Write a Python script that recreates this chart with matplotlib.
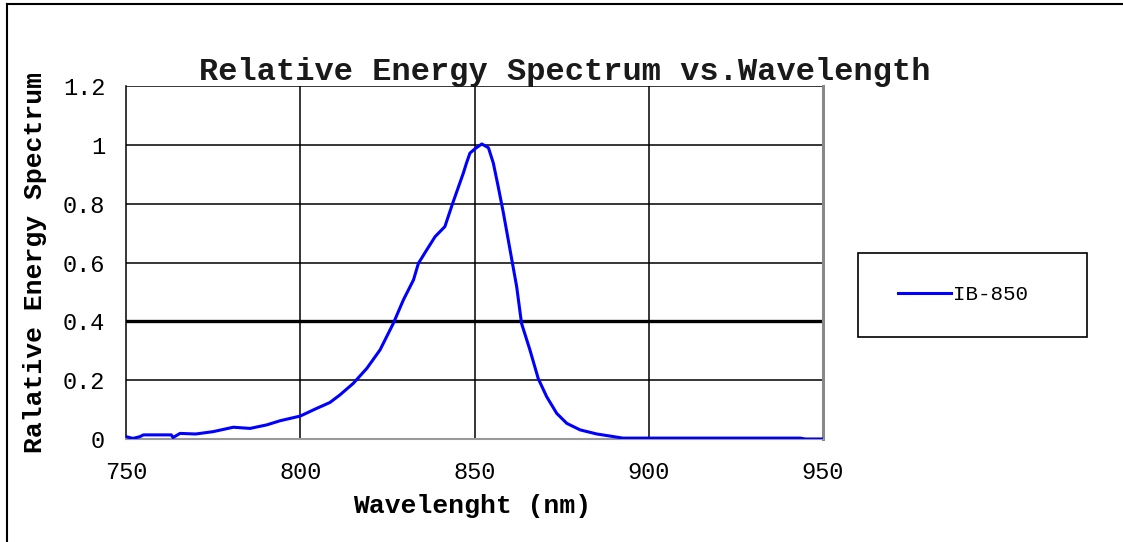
import matplotlib
matplotlib.use('Agg')
import matplotlib.pyplot as plt
from matplotlib.lines import Line2D
from matplotlib.patches import Rectangle

# spectrum
wavelength = [750, 752, 754, 755, 760, 763, 763.5, 765.5, 770, 775, 780.8, 785.6,
              790.4, 794.2, 800, 804.7, 808.5, 811.4, 815.2, 819.1, 822.9, 826.7,
              829.6, 832.5, 833.9, 836.3, 838.7, 841.5, 843.7, 846.8, 847.7, 848.7, 850.3,
              852.1, 854, 855.4, 856.8, 858.3, 860.2, 862.1, 863.5, 865.9, 868.3,
              870.7, 873.6, 876.5, 880.3, 885.1, 888.9, 892.6, 900, 920, 943.4, 945, 950]
energy = [0.008, 0.002, 0.008, 0.014, 0.014, 0.014, 0.005, 0.019, 0.017, 0.025, 0.040, 0.036,
          0.048, 0.062, 0.078, 0.104, 0.124, 0.150, 0.189, 0.240, 0.303, 0.393,
          0.473, 0.541, 0.597, 0.643, 0.688, 0.722, 0.800, 0.904, 0.938, 0.972, 0.988,
          1.003, 0.99, 0.938, 0.858, 0.768, 0.643, 0.518, 0.393, 0.303, 0.205,
          0.144, 0.087, 0.053, 0.031, 0.017, 0.010, 0.003, 0.003, 0.003, 0.003, 0.0, 0.0]
series_name = 'IB-850'
x_ticks = [750, 800, 850, 900, 950]
y_ticks = [0, 0.2, 0.4, 0.6, 0.8, 1.0, 1.2]
y_tick_labels = ['0', '0.2', '0.4', '0.6', '0.8', '1', '1.2']

MONO = ['Liberation Mono', 'DejaVu Sans Mono']
W, H = 1123, 542

fig = plt.figure(figsize=(W / 100, H / 100), dpi=100)
ax = fig.add_axes([126 / W, 1 - 439 / H, 697 / W, 353 / H])

# grid drawn by hand so the 0.4 line can be heavier
for xv in x_ticks[1:-1]:
    ax.axvline(xv, color='black', lw=1.1, zorder=1)
for yv in y_ticks[1:]:
    ax.axhline(yv, color='black', lw=2.4 if abs(yv - 0.4) < 1e-9 else 1.1, zorder=1)

line, = ax.plot(wavelength, energy, color='#0000FF', lw=2.2, zorder=3, label=series_name)

ax.set_xlim(750, 950)
ax.set_ylim(0, 1.2)
ax.set_xticks(x_ticks)
ax.set_xticklabels([str(v) for v in x_ticks], family=MONO, fontsize=17)
ax.set_yticks(y_ticks)
ax.set_yticklabels(y_tick_labels, family=MONO, fontsize=17)
ax.tick_params(axis='x', length=0, pad=16)
ax.tick_params(axis='y', length=0, pad=15)

ax.spines['left'].set_color('black')
ax.spines['left'].set_linewidth(1.1)
ax.spines['top'].set_visible(False)
ax.spines['bottom'].set_color('#999999')
ax.spines['bottom'].set_linewidth(1.5)
ax.spines['right'].set_color('#888888')
ax.spines['right'].set_linewidth(2.2)

ax.set_xlabel('Wavelenght (nm)', family=MONO, fontsize=19, fontweight='bold')
ax.xaxis.set_label_coords(0.497, (439 - 494) / 353)
ax.set_ylabel('Ralative Energy Spectrum', family=MONO, fontsize=19, fontweight='bold')
ax.yaxis.set_label_coords((47 - 126) / 697, 0.5)

fig.text(565 / W, 1 - 80 / H, 'Relative Energy Spectrum vs.Wavelength', family=MONO,
         fontsize=23, fontweight='bold', ha='center', va='baseline', color='#1a1a1a')

# legend box
fig.add_artist(Rectangle((858 / W, 1 - 337 / H), 229 / W, 84 / H, transform=fig.transFigure,
                         facecolor='white', edgecolor='black', lw=1.2, zorder=0))
leg = fig.legend(handles=[line], loc='center', bbox_to_anchor=(963 / W, 1 - 295 / H),
                 prop={'family': MONO, 'size': 15}, frameon=False,
                 handlelength=2.5, handletextpad=0.1, borderpad=0, borderaxespad=0)

# outer border (top and left only)
fig.add_artist(Line2D([7 / W, 1.0], [1 - 4 / H, 1 - 4 / H], color='black', lw=1.5,
                      transform=fig.transFigure))
fig.add_artist(Line2D([7 / W, 7 / W], [0, 1 - 4 / H], color='black', lw=1.5,
                      transform=fig.transFigure))

fig.savefig('out.png', dpi=100, facecolor='white')
